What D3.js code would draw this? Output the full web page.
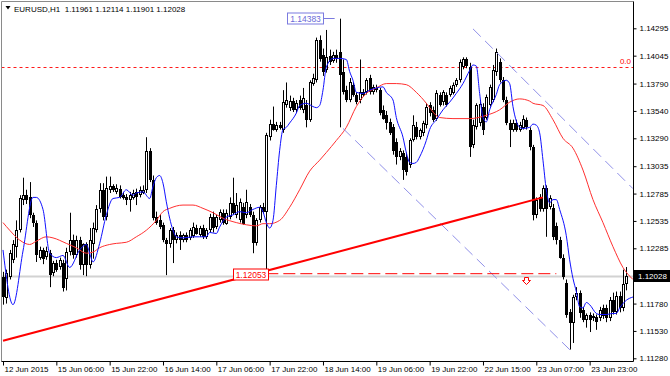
<!DOCTYPE html>
<html><head><meta charset="utf-8">
<script src="https://cdn.jsdelivr.net/npm/d3@7/dist/d3.min.js"></script>
<style>
body{margin:0;background:#fff;}
svg{display:block;font-family:"Liberation Sans",Arial,sans-serif;}
</style></head><body>
<svg id="c" width="670" height="376"></svg>
<script>
// ---------- data ----------
const symbolTitle = "EURUSD,H1";
const lastOHLC = [1.11961, 1.12114, 1.11901, 1.12028];
const timeTickIndex = [0,16,32,48,64,80,96,112,128,144,160,176];
const timeTickLabels = ["12 Jun 2015","15 Jun 06:00","15 Jun 22:00","16 Jun 14:00","17 Jun 06:00","17 Jun 22:00","18 Jun 14:00","19 Jun 06:00","19 Jun 22:00","22 Jun 15:00","23 Jun 07:00","23 Jun 23:00"];
const priceTicks = [1.14295,1.14045,1.13790,1.13540,1.13290,1.13035,1.12785,1.12535,1.12285,1.11780,1.11530,1.11280];

const open = [1.1202,1.1183,1.1202,1.1218,1.1230,1.1245,1.1273,1.1277,1.1275,1.1259,
1.1252,1.1220,1.1227,1.1221,1.1224,1.1206,1.1215,1.1211,1.1215,1.1200,
1.1225,1.1236,1.1222,1.1236,1.1213,1.1232,1.1213,1.1232,1.1245,1.1264,
1.1282,1.1257,1.1282,1.1285,1.1280,1.1283,1.1277,1.1275,1.1273,1.1274,
1.1280,1.1277,1.1279,1.1282,1.1317,1.1291,1.1257,1.1254,1.1250,1.1236,
1.1232,1.1245,1.1236,1.1241,1.1236,1.1241,1.1238,1.1240,1.1247,1.1241,
1.1247,1.1239,1.1245,1.1257,1.1248,1.1254,1.1261,1.1251,1.1257,1.1270,
1.1259,1.1254,1.1266,1.1259,1.1266,1.1259,1.1233,1.1254,1.1266,1.1262,
1.1330,1.1342,1.1337,1.1341,1.1337,1.1359,1.1357,1.1363,1.1355,1.1364,
1.1355,1.1359,1.1346,1.1379,1.1382,1.1419,1.1405,1.1391,1.1404,1.1400,
1.1405,1.1408,1.1390,1.1373,1.1364,1.1378,1.1369,1.1364,1.1371,1.1371,
1.1384,1.1371,1.1375,1.1373,1.1355,1.1350,1.1344,1.1339,1.1326,1.1312,
1.1316,1.1312,1.1305,1.1327,1.1339,1.1330,1.1334,1.1341,1.1359,1.1355,
1.1347,1.1369,1.1362,1.1369,1.1369,1.1370,1.1378,1.1382,1.1394,1.1401,
1.1394,1.1323,1.1339,1.1343,1.1358,1.1348,1.1359,1.1364,1.1390,1.1399,
1.1382,1.1364,1.1343,1.1337,1.1343,1.1337,1.1338,1.1346,1.1337,1.1321,
1.1259,1.1275,1.1264,1.1284,1.1266,1.1265,1.1249,1.1236,1.1220,1.1197,
1.1170,1.1160,1.1184,1.1188,1.1172,1.1163,1.1168,1.1165,1.1166,1.1165,
1.1174,1.1174,1.1165,1.1181,1.1170,1.1185,1.1174,1.11961];

const high = [1.1207,1.1209,1.1227,1.1236,1.1254,1.1277,1.1293,1.1282,1.1289,1.1261,
1.1254,1.1230,1.1229,1.1230,1.1227,1.1217,1.1218,1.1220,1.1218,1.1229,
1.1261,1.1241,1.1240,1.1239,1.1233,1.1234,1.1247,1.1252,1.1268,1.1288,
1.1288,1.1294,1.1294,1.1287,1.1287,1.1286,1.1280,1.1278,1.1280,1.1282,
1.1283,1.1285,1.1286,1.1330,1.1320,1.1295,1.1262,1.1259,1.1252,1.1238,
1.1247,1.1248,1.1243,1.1244,1.1242,1.1243,1.1247,1.1252,1.1250,1.1249,
1.1250,1.1247,1.1260,1.1262,1.1259,1.1264,1.1264,1.1264,1.1275,1.1293,
1.1279,1.1274,1.1270,1.1282,1.1269,1.1262,1.1256,1.1268,1.1270,1.1334,
1.1346,1.1358,1.1344,1.1344,1.1373,1.1380,1.1368,1.1366,1.1364,1.1368,
1.1375,1.1364,1.1382,1.1388,1.1421,1.1423,1.1411,1.1428,1.1410,1.1408,
1.1410,1.14383,1.1401,1.1377,1.1384,1.1380,1.1371,1.1401,1.1374,1.1384,
1.1387,1.1378,1.1378,1.1375,1.1359,1.1354,1.1347,1.1342,1.1329,1.1320,
1.1318,1.1316,1.1329,1.1350,1.1344,1.1338,1.1345,1.1361,1.1362,1.1358,
1.1373,1.1371,1.1373,1.1371,1.1377,1.1380,1.1384,1.1401,1.1403,1.1403,
1.1398,1.1346,1.1361,1.1364,1.1361,1.1369,1.1378,1.1396,1.1411,1.1402,
1.1385,1.1367,1.1346,1.1346,1.1346,1.1344,1.1350,1.1348,1.1339,1.1323,
1.1275,1.1278,1.1286,1.1286,1.1277,1.1269,1.1252,1.1239,1.1223,1.1200,
1.1173,1.1186,1.1193,1.1190,1.1175,1.1169,1.1170,1.1169,1.1168,1.1175,
1.1177,1.1177,1.1184,1.1188,1.1189,1.1189,1.1209,1.12114];

const low = [1.1177,1.1178,1.1200,1.1215,1.1220,1.1243,1.1268,1.1269,1.1256,1.1248,
1.1216,1.1218,1.1214,1.1218,1.1193,1.1203,1.1207,1.1209,1.1189,1.1190,
1.1222,1.1219,1.1220,1.1209,1.1204,1.1203,1.1210,1.1219,1.1243,1.1261,
1.1254,1.1254,1.1279,1.1280,1.1278,1.1274,1.1273,1.1268,1.1262,1.1273,
1.1268,1.1275,1.1278,1.1279,1.1289,1.1254,1.1250,1.1246,1.1234,1.1204,
1.1229,1.1215,1.1233,1.1227,1.1234,1.1234,1.1236,1.1238,1.1241,1.1239,
1.1237,1.1237,1.1243,1.1243,1.1246,1.1252,1.1250,1.1250,1.1255,1.1259,
1.1256,1.1252,1.1250,1.1256,1.1257,1.1224,1.1231,1.1252,1.1260,1.12053,
1.1327,1.1336,1.1335,1.1337,1.1334,1.1357,1.1354,1.1353,1.1352,1.1355,
1.1352,1.1339,1.1344,1.1377,1.1380,1.1399,1.1386,1.1389,1.1396,1.1398,
1.1398,1.1339,1.1369,1.1362,1.1362,1.1367,1.1360,1.1361,1.1367,1.1369,
1.1369,1.1369,1.1371,1.1350,1.1346,1.1337,1.1332,1.1314,1.1305,1.1309,
1.1291,1.1295,1.1302,1.1326,1.1328,1.1328,1.1331,1.1338,1.1349,1.1344,
1.1345,1.1358,1.1359,1.1358,1.1367,1.1369,1.1376,1.1380,1.1392,1.1393,
1.1312,1.1320,1.1337,1.1340,1.1332,1.1346,1.1358,1.1362,1.1386,1.1380,
1.1362,1.1341,1.1321,1.1335,1.1335,1.1335,1.1337,1.1337,1.1318,1.1254,
1.1256,1.1262,1.1262,1.1239,1.1264,1.1236,1.1232,1.1219,1.1200,1.1165,
1.1136,1.1142,1.1181,1.1165,1.1161,1.1156,1.1152,1.1162,1.1154,1.1162,
1.1164,1.1161,1.1162,1.1168,1.1168,1.1170,1.1171,1.11901];

const close = [1.1184,1.1206,1.1224,1.1232,1.1245,1.1274,1.1277,1.1273,1.1259,1.1252,
1.1222,1.1227,1.1219,1.1226,1.1204,1.1215,1.1209,1.1218,1.1192,1.1225,
1.1236,1.1222,1.1236,1.1213,1.1232,1.1213,1.1236,1.1247,1.1264,1.1282,
1.1257,1.1284,1.1285,1.1282,1.1284,1.1275,1.1274,1.1273,1.1277,1.1279,
1.1275,1.1282,1.1282,1.1317,1.1291,1.1256,1.1252,1.1248,1.1236,1.1232,
1.1245,1.1236,1.1241,1.1236,1.1241,1.1236,1.1245,1.1248,1.1242,1.1247,
1.1239,1.1245,1.1257,1.1247,1.1257,1.1262,1.1252,1.1261,1.1270,1.1261,
1.1268,1.1271,1.1251,1.1271,1.1259,1.1233,1.1254,1.1266,1.1262,1.1332,
1.1342,1.1337,1.1341,1.1338,1.1362,1.1364,1.1363,1.1355,1.1361,1.1357,
1.1366,1.1346,1.1380,1.1384,1.1419,1.1401,1.1390,1.1403,1.1399,1.1405,
1.1401,1.1387,1.1371,1.1364,1.1380,1.1369,1.1362,1.1371,1.1369,1.1382,
1.1371,1.1376,1.1373,1.1352,1.1347,1.1343,1.1334,1.1317,1.1312,1.1317,
1.1300,1.1298,1.1327,1.1341,1.1330,1.1337,1.1343,1.1358,1.1352,1.1346,
1.1370,1.1359,1.1371,1.1359,1.1375,1.1378,1.1382,1.1399,1.1401,1.1395,
1.1321,1.1341,1.1359,1.1360,1.1337,1.1367,1.1376,1.1391,1.1408,1.1382,
1.1364,1.1343,1.1337,1.1343,1.1337,1.1341,1.1347,1.1339,1.1321,1.1259,
1.1273,1.1264,1.1284,1.1264,1.1274,1.1239,1.1236,1.1220,1.1202,1.1168,
1.1160,1.1184,1.1188,1.1169,1.1163,1.1168,1.1163,1.1167,1.1161,1.1172,
1.1167,1.1165,1.1181,1.1170,1.1185,1.1174,1.1196,1.12028];

// indicator lines: [bar index, price]
const fastMA = [[0,1.1227],[3,1.1177],[6,1.1226],[9,1.1275],[10,1.1275],[12,1.1264],[14,1.1224],[16,1.1220],[18,1.1222],[20,1.1211],[23,1.1227],[25,1.1232],[26,1.1224],[27,1.1216],[29,1.1233],[31,1.1259],[33,1.1274],[35,1.1275],[37,1.1282],[39,1.1277],[40,1.1279],[42,1.1280],[44,1.1274],[45,1.1285],[46,1.1293],[47,1.1295],[48,1.1288],[49,1.1271],[50,1.1256],[51,1.1245],[52,1.1239],[54,1.1238],[57,1.1239],[59,1.1239],[61,1.1239],[62,1.1243],[64,1.1242],[65,1.1248],[67,1.1257],[69,1.1259],[71,1.1262],[73,1.1261],[75,1.1264],[77,1.1266],[78,1.1262],[79,1.1252],[80,1.1247],[81,1.1254],[82,1.1286],[83,1.1318],[84,1.1337],[85,1.1339],[86,1.1343],[88,1.1352],[89,1.1359],[91,1.1361],[93,1.1358],[94,1.1357],[95,1.1359],[96,1.1373],[97,1.1394],[99,1.1402],[101,1.1402],[103,1.1401],[104,1.1390],[105,1.1382],[106,1.1371],[108,1.1370],[110,1.1373],[112,1.1375],[114,1.1376],[115,1.1371],[117,1.1364],[118,1.1348],[120,1.1330],[121,1.1316],[122,1.1307],[123,1.1306],[124,1.1307],[125,1.1312],[127,1.1327],[128,1.1337],[130,1.1346],[132,1.1355],[134,1.1362],[136,1.1370],[138,1.1379],[140,1.1391],[141,1.1396],[142,1.1395],[143,1.1370],[144,1.1348],[145,1.1344],[146,1.1355],[148,1.1369],[149,1.1378],[151,1.1382],[152,1.1379],[153,1.1358],[155,1.1339],[156,1.1338],[158,1.1339],[159,1.1342],[160,1.1341],[161,1.1334],[162,1.1309],[163,1.1282],[164,1.1270],[165,1.1273],[166,1.1273],[167,1.1264],[169,1.1240],[170,1.1218],[171,1.1201],[172,1.1189],[173,1.1175],[174,1.1174],[175,1.1179],[176,1.1177],[178,1.1169],[179,1.1168],[181,1.1168],[183,1.1169],[184,1.1169],[185,1.1174],[187,1.1181],[189,1.1184]];
const slowMA = [[0,1.1252],[2,1.1245],[5,1.1236],[8,1.1232],[10,1.1235],[13,1.1239],[15,1.1238],[19,1.1233],[22,1.1229],[25,1.1224],[27,1.1225],[29,1.1229],[32,1.1232],[34,1.1233],[37,1.1234],[40,1.1239],[43,1.1245],[46,1.1254],[48,1.1262],[50,1.1265],[54,1.1268],[57,1.1268],[60,1.1265],[63,1.1261],[66,1.1256],[70,1.1252],[73,1.1250],[76,1.1249],[78,1.1251],[80,1.1251],[83,1.1254],[86,1.1266],[89,1.1282],[92,1.1299],[95,1.1309],[97,1.1316],[100,1.1327],[103,1.1339],[106,1.1358],[109,1.1370],[112,1.1375],[115,1.1379],[118,1.1379],[121,1.1378],[124,1.1371],[127,1.1361],[128,1.1357],[131,1.1348],[135,1.1347],[140,1.1347],[145,1.1350],[149,1.1355],[152,1.1362],[155,1.1365],[158,1.1363],[159,1.1361],[162,1.1359],[165,1.1346],[168,1.1329],[171,1.1320],[174,1.1300],[177,1.1273],[180,1.1252],[183,1.1230],[186,1.1211],[189,1.1200]];

// drawn objects: [bar index, price]
const trendLine = [[0,1.1144],[162,1.1275]];
const channelUpper = [[141,1.1429],[189,1.1283]];
const channelLower = [[102,1.1338],[171,1.1133]];
const fiboLevel = 1.13945;
const lowLevel = [[79,1.12053],[166,1.12053]];
const sellArrowIndex = 157;
const highMark = {index:101, price:1.14383};
const lowMark = {index:79, price:1.12053};

// ---------- scales ----------
const svg = d3.select("#c");
const L = 1.5, T = 1.5, R = 633.5, B = 361.5;
const x = d3.scaleLinear().domain([0,187]).range([3,626.3]);
const y = d3.scaleLinear().domain([1.11280,1.14295]).range([358.3,28.3]);

svg.append("defs").append("clipPath").attr("id","clip")
  .append("rect").attr("x",L).attr("y",T).attr("width",R-L).attr("height",B-T);
const g = svg.append("g").attr("clip-path","url(#clip)");

// current price line
g.append("line").attr("x1",L).attr("x2",R).attr("y1",y(lastOHLC[3])).attr("y2",y(lastOHLC[3]))
  .attr("stroke","#d2d2d2").attr("stroke-width",2);

// fibo 0.0 level
g.append("line").attr("x1",L).attr("x2",R).attr("y1",Math.round(y(fiboLevel))+0.5).attr("y2",Math.round(y(fiboLevel))+0.5)
  .attr("stroke","#ff1a1a").attr("stroke-width",1).attr("stroke-dasharray","3,3");

// candles
const idx = d3.range(open.length);
const cg = g.append("g");
idx.forEach(i=>{
  const px = Math.round(x(i));
  cg.append("line").attr("x1",px+0.5).attr("x2",px+0.5)
    .attr("y1",y(high[i])).attr("y2",y(low[i])).attr("stroke","#000").attr("stroke-width",1);
  const yo = Math.round(y(open[i])), yc = Math.round(y(close[i]));
  const top = Math.min(yo,yc), h = Math.max(1,Math.abs(yc-yo));
  if (close[i] >= open[i]) {
    cg.append("rect").attr("x",px-0.5).attr("y",top+0.5).attr("width",2).attr("height",Math.max(0.5,h-1))
      .attr("fill","#fff").attr("stroke","#000").attr("stroke-width",1);
  } else {
    cg.append("rect").attr("x",px-1).attr("y",top).attr("width",3).attr("height",h).attr("fill","#000");
  }
});

// moving averages
const ln = d3.line().x(d=>x(d[0])).y(d=>y(d[1])).curve(d3.curveMonotoneX);
g.append("path").datum(slowMA).attr("d",ln).attr("fill","none").attr("stroke","#ff3030").attr("stroke-width",1);
g.append("path").datum(fastMA).attr("d",ln).attr("fill","none").attr("stroke","#1010ff").attr("stroke-width",1);

// channel lines
const straight = d3.line().x(d=>x(d[0])).y(d=>y(d[1]));
[channelUpper, channelLower].forEach(c=>{
  g.append("path").datum(c).attr("d",straight).attr("fill","none")
    .attr("stroke","#9090e8").attr("stroke-width",1).attr("stroke-dasharray","11,6");
});

// thick trend line
g.append("path").datum(trendLine).attr("d",straight).attr("fill","none")
  .attr("stroke","#ff0000").attr("stroke-width",2);

// low level dashed line
g.append("path").datum(lowLevel).attr("d",straight).attr("fill","none")
  .attr("stroke","#ff0000").attr("stroke-width",1).attr("stroke-dasharray","12,5");

// sell arrow
{
  const cx = Math.round(x(sellArrowIndex))+0.5, ty = Math.round(y(lowLevel[0][1]))+3.5;
  g.append("path").attr("d",`M${cx-2},${ty} L${cx+2},${ty} L${cx+2},${ty+3} L${cx+4},${ty+3} L${cx},${ty+7} L${cx-4},${ty+3} L${cx-2},${ty+3} Z`)
    .attr("fill","#fff").attr("stroke","#ff0000").attr("stroke-width",1);
}

// high price label
{
  const hx = x(highMark.index), hy = Math.round(y(highMark.price))-0.5;
  const bx = Math.round(hx-53)+0.5;
  svg.append("line").attr("x1",bx+36).attr("x2",hx-5).attr("y1",hy).attr("y2",hy).attr("stroke","#7a7adf");
  svg.append("rect").attr("x",bx).attr("y",hy-5.5).attr("width",36).attr("height",11)
    .attr("fill","#fff").attr("stroke","#7a7adf");
  svg.append("text").attr("x",bx+18).attr("y",hy+3).attr("text-anchor","middle")
    .attr("font-size","8.5px").attr("fill","#6a6ad8").text(highMark.price.toFixed(5));
}
// low price label
{
  const lx = x(lowMark.index), ly = Math.round(y(lowMark.price))+0.5;
  const bx = Math.round(lx-33)+0.5;
  svg.append("rect").attr("x",bx).attr("y",ly-5.5).attr("width",35).attr("height",11)
    .attr("fill","#fff").attr("stroke","#ff0000");
  svg.append("text").attr("x",bx+17.5).attr("y",ly+3).attr("text-anchor","middle")
    .attr("font-size","8.5px").attr("fill","#ff0000").text(lowMark.price.toFixed(5));
}

// "0.0" label
svg.append("text").attr("x",631).attr("y",y(fiboLevel)-3).attr("text-anchor","end")
  .attr("font-size","8px").attr("fill","#ff0000").text("0.0");

// frame
svg.append("line").attr("x1",L).attr("x2",L).attr("y1",T).attr("y2",B).attr("stroke","#8a8a8a");
svg.append("line").attr("x1",L).attr("x2",R).attr("y1",T).attr("y2",T).attr("stroke","#8a8a8a");

// right axis
const ay = svg.append("g").attr("transform",`translate(${R},0)`)
  .call(d3.axisRight(y).tickValues(priceTicks).tickSize(3).tickPadding(3).tickFormat(d3.format(".5f")));
ay.select(".domain").remove();
ay.selectAll("text").attr("font-size","8px").attr("font-family","Liberation Sans, Arial, sans-serif").attr("fill","#000");
ay.selectAll("line").attr("stroke","#000");
svg.append("line").attr("x1",R).attr("x2",R).attr("y1",T).attr("y2",B).attr("stroke","#000");

// bottom axis
const ax = svg.append("g").attr("transform",`translate(0,${B})`)
  .call(d3.axisBottom(x).tickValues(timeTickIndex).tickSize(4).tickFormat((d,i)=>timeTickLabels[i]));
ax.select(".domain").remove();
ax.selectAll("line").attr("stroke","#000");
ax.selectAll("text").attr("text-anchor","start").attr("x",1).attr("y",10.5).attr("dy",null)
  .attr("font-size","8px").attr("font-family","Liberation Sans, Arial, sans-serif").attr("fill","#000");
svg.append("line").attr("x1",L).attr("x2",R).attr("y1",B).attr("y2",B).attr("stroke","#000");

// current price box
{
  const cy = y(lastOHLC[3]);
  svg.append("rect").attr("x",634).attr("y",Math.round(cy)-6).attr("width",36).attr("height",12).attr("fill","#000");
  svg.append("text").attr("x",638).attr("y",Math.round(cy)+3).attr("font-size","8px").attr("fill","#fff")
    .text(lastOHLC[3].toFixed(5));
}

// title
svg.append("path").attr("d","M5.5,6 L10.5,6 L8,9.5 Z").attr("fill","#000");
svg.append("text").attr("x",14).attr("y",11.5).attr("font-size","8px").attr("fill","#000")
  .attr("xml:space","preserve")
  .text(symbolTitle + "  " + lastOHLC.map(v=>v.toFixed(5)).join(" "));
</script>
</body></html>
